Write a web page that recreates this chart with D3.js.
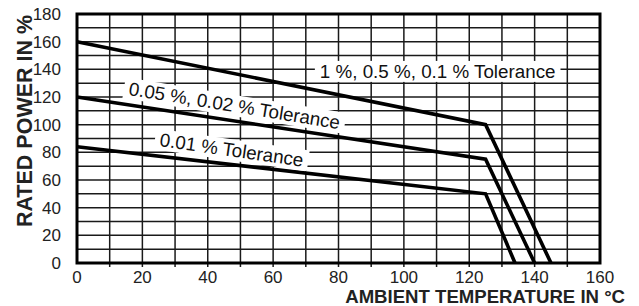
<!DOCTYPE html>
<html>
<head>
<meta charset="utf-8">
<script src="https://cdn.jsdelivr.net/npm/d3@7"></script>
<style>
    body { margin: 0; background: #fff; }
    svg { display: block; font-family: "Liberation Sans", Arial, Helvetica, sans-serif; }
</style>
</head>
<body>
<div id="chart"></div>
<script>
// derating curves: ambient temperature (°C) vs rated power (%)
var seriesHigh = [{ t: 0, p: 160 }, { t: 125, p: 100 }, { t: 145, p: 0 }];
var seriesMid = [{ t: 0, p: 120 }, { t: 125, p: 75 }, { t: 140, p: 0 }];
var seriesLow = [{ t: 0, p: 84 }, { t: 125, p: 50 }, { t: 134, p: 0 }];

var xTicks = [0, 20, 40, 60, 80, 100, 120, 140, 160];
var yTicks = [0, 20, 40, 60, 80, 100, 120, 140, 160, 180];

var labelText = ['1 %, 0.5 %, 0.1 % Tolerance', '0.05 %, 0.02 % Tolerance', '0.01 % Tolerance'];
var labelAt = [{ t: 74.3, p: 133.8, angle: 0 }, { t: 15.6, p: 121.5, angle: 9.2 }, { t: 25.1, p: 84.6, angle: 8.2 }];

var width = 639, height = 306;
var margin = { top: 14, right: 39, bottom: 43, left: 77 };

var svg = d3.select('#chart').append('svg')
    .attr('width', width)
    .attr('height', height);

var xAxis = d3.scaleLinear().domain([0, 160]).range([margin.left, width - margin.right]);
var yAxis = d3.scaleLinear().domain([0, 180]).range([height - margin.bottom, margin.top]);

var grid = svg.append('g').attr('stroke', '#1a1a1a').attr('stroke-width', 1.5);

grid.selectAll('line.v')
    .data(d3.range(10, 160, 10))
    .enter().append('line')
    .attr('class', 'v')
    .attr('x1', function(d) { return xAxis(d); })
    .attr('x2', function(d) { return xAxis(d); })
    .attr('y1', yAxis(180))
    .attr('y2', yAxis(0) + 4);

grid.selectAll('line.h')
    .data(d3.range(10, 180, 10))
    .enter().append('line')
    .attr('class', 'h')
    .attr('x1', xAxis(0))
    .attr('x2', xAxis(160))
    .attr('y1', function(d) { return yAxis(d); })
    .attr('y2', function(d) { return yAxis(d); });

svg.append('rect')
    .attr('x', xAxis(0))
    .attr('y', yAxis(180))
    .attr('width', xAxis(160) - xAxis(0))
    .attr('height', yAxis(0) - yAxis(180))
    .attr('fill', 'none')
    .attr('stroke', '#000')
    .attr('stroke-width', 3);

var line = d3.line()
    .x(function(d) { return xAxis(d.t); })
    .y(function(d) { return yAxis(d.p); });

[seriesHigh, seriesMid, seriesLow].forEach(function(s) {
    svg.append('path')
        .datum(s)
        .attr('d', line)
        .attr('fill', 'none')
        .attr('stroke', '#000')
        .attr('stroke-width', 3.6)
        .attr('stroke-linejoin', 'miter');
});

// labels with white boxes
labelText.forEach(function(txt, i) {
    var at = labelAt[i];
    var g = svg.append('g')
        .attr('transform', 'translate(' + xAxis(at.t) + ',' + yAxis(at.p) + ') rotate(' + at.angle + ')');
    var text = g.append('text')
        .attr('font-size', 18.8)
        .attr('fill', '#111')
        .text(txt);
    var box = text.node().getBBox();
    g.insert('rect', 'text')
        .attr('x', box.x - 5)
        .attr('y', box.y)
        .attr('width', box.width + 10)
        .attr('height', box.height)
        .attr('fill', '#fff');
});

svg.append('g').selectAll('text')
    .data(xTicks)
    .enter().append('text')
    .attr('x', function(d) { return xAxis(d); })
    .attr('y', yAxis(0) + 20)
    .attr('text-anchor', 'middle')
    .attr('font-size', 17)
    .attr('fill', '#222')
    .text(function(d) { return d; });

svg.append('g').selectAll('text')
    .data(yTicks)
    .enter().append('text')
    .attr('x', xAxis(0) - 16)
    .attr('y', function(d) { return yAxis(d); })
    .attr('dy', '0.36em')
    .attr('text-anchor', 'end')
    .attr('font-size', 17)
    .attr('fill', '#222')
    .text(function(d) { return d; });

svg.append('text')
    .attr('x', width - 14)
    .attr('y', height - 3)
    .attr('text-anchor', 'end')
    .attr('font-size', 18.6)
    .attr('font-weight', 'bold')
    .attr('fill', '#222')
    .text('AMBIENT TEMPERATURE IN °C');

svg.append('text')
    .attr('transform', 'translate(32,121) rotate(-90)')
    .attr('text-anchor', 'middle')
    .attr('font-size', 21.5)
    .attr('font-weight', 'bold')
    .attr('fill', '#222')
    .text('RATED POWER IN %');
</script>
</body>
</html>
